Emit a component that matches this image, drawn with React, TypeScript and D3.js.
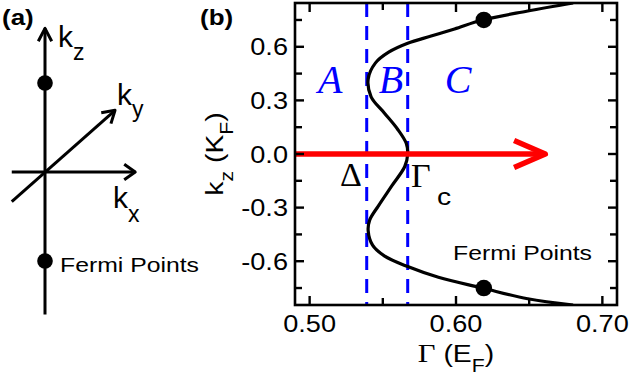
import React from 'react'
import * as d3 from 'd3'

// panel (b): the S-shaped curve (kz in K_F, Gamma in E_F)
const kzValues = [0.845, 0.80, 0.75, 0.70, 0.66, 0.62, 0.57, 0.51, 0.42, 0.32, 0.23, 0.14, 0.06, 0,
  -0.07, -0.18, -0.29, -0.37, -0.43, -0.51, -0.57, -0.63, -0.69, -0.75, -0.81, -0.845]
const gammaValues = [0.680, 0.649, 0.618, 0.599, 0.583, 0.567, 0.554, 0.545, 0.540, 0.542, 0.551, 0.560, 0.566, 0.567,
  0.565, 0.556, 0.547, 0.541, 0.540, 0.543, 0.551, 0.567, 0.588, 0.618, 0.649, 0.680]
const fermiGamma = 0.619
const fermiKz = [0.75, -0.75]
const dashedGamma = [0.539, 0.567]
const arrowGamma = [0.49, 0.661]
const regionNames = ['A', 'B', 'C']

const xMajor = [0.5, 0.6, 0.7]
const xMinor = [0.55, 0.65]
const yMajor = [-0.6, -0.3, 0, 0.3, 0.6]
const yMinor = [-0.75, -0.45, -0.15, 0.15, 0.45, 0.75]

// panel (a): schematic axes, in units of K_F
const schemeFermiKz = [0.75, -0.75]
const schemeKzAxis = [-1.2, 1.21]
const schemeKxAxis = [-0.28, 0.76]
const schemeKyAxis = [[-0.28, -0.25], [0.59, 0.52]]

const SANS = "'Liberation Sans', Arial, sans-serif"
const SERIF = "'Liberation Serif', 'Times New Roman', serif"
const SX = 1.18

const margin = { top: 3, right: 14, bottom: 70, left: 295 }
const W = 631, H = 375

// open chevron arrow head at (tx,ty) pointing along angle
function chevron (tx: number, ty: number, angle: number, len: number, half: number) {
  const a1 = angle + Math.PI - half, a2 = angle + Math.PI + half
  return `M${tx + len * Math.cos(a1)},${ty + len * Math.sin(a1)}L${tx},${ty}L${tx + len * Math.cos(a2)},${ty + len * Math.sin(a2)}`
}

function App () {
  const x = d3.scaleLinear().domain([0.49, 0.71]).range([margin.left, W - margin.right])
  const y = d3.scaleLinear().domain([-0.845, 0.845]).range([H - margin.bottom, margin.top])
  const [x0, x1] = x.range()
  const [y1, y0] = y.range()

  const pts = kzValues.map((k, i) => [gammaValues[i], k] as [number, number])
  const curve = d3.line<[number, number]>()
    .x(d => x(d[0]))
    .y(d => y(d[1]))
    .curve(d3.curveCatmullRom.alpha(0.5))(pts)

  // schematic scales for (a)
  const sx = d3.scaleLinear().domain([0, 1]).range([45, 163.7])
  const sy = d3.scaleLinear().domain([0, 1]).range([172, 53.3])

  const ax0 = x(arrowGamma[0]), ax1 = x(arrowGamma[1]), ay = y(0)
  const kyStart = schemeKyAxis[0], kyEnd = schemeKyAxis[1]
  const kyAngle = Math.atan2(sy(kyEnd[1]) - sy(kyStart[1]), sx(kyEnd[0]) - sx(kyStart[0]))

  const regionX = [0.514, 0.5555, 0.6015]

  return (
    <svg width={W} height={H} style={{ position: 'absolute', left: 0, top: 0, background: '#fff' }}>
      <defs>
        <clipPath id='plot'><rect x={x0} y={y0} width={x1 - x0} height={y1 - y0} /></clipPath>
      </defs>

      {/* ---------- panel (a) ---------- */}
      <text transform={`translate(2,25) scale(${SX},1)`} fontFamily={SANS} fontWeight='bold' fontSize={22}>(a)</text>
      <g stroke='#000' strokeWidth={3} fill='none' strokeLinejoin='round'>
        <line x1={sx(0)} x2={sx(0)} y1={sy(schemeKzAxis[0])} y2={sy(schemeKzAxis[1])} />
        <path d={chevron(sx(0), sy(schemeKzAxis[1]), -Math.PI / 2, 14.5, 0.48)} />
        <line x1={sx(schemeKxAxis[0])} x2={sx(schemeKxAxis[1])} y1={sy(0)} y2={sy(0)} />
        <path d={chevron(sx(schemeKxAxis[1]), sy(0), 0, 13.5, 0.62)} />
        <line x1={sx(kyStart[0])} y1={sy(kyStart[1])} x2={sx(kyEnd[0])} y2={sy(kyEnd[1])} />
        <path d={chevron(sx(kyEnd[0]), sy(kyEnd[1]), kyAngle, 14, 0.55)} />
      </g>
      {schemeFermiKz.map(k => <circle key={k} cx={sx(0)} cy={sy(k)} r={7.8} fill='#000' />)}
      <text x={58} y={47} fontFamily={SANS} fontSize={30}>k<tspan fontSize={23} dy={13}>z</tspan></text>
      <text x={117} y={105} fontFamily={SANS} fontSize={30}>k<tspan fontSize={23} dy={12}>y</tspan></text>
      <text x={113} y={208} fontFamily={SANS} fontSize={30}>k<tspan fontSize={23} dy={14}>x</tspan></text>
      <text transform={`translate(60,272) scale(${SX},1)`} fontFamily={SANS} fontSize={21}>Fermi Points</text>

      {/* ---------- panel (b) ---------- */}
      <text transform={`translate(200,25) scale(${SX},1)`} fontFamily={SANS} fontWeight='bold' fontSize={22}>(b)</text>

      <g clipPath='url(#plot)'>
        {dashedGamma.map(g => (
          <line key={g} x1={x(g)} x2={x(g)} y1={y0} y2={y1} stroke='#0000ff' strokeWidth={3} strokeDasharray='14,9' />
        ))}
        <path d={curve || ''} fill='none' stroke='#000' strokeWidth={3.2} />
        {fermiKz.map(k => <circle key={k} cx={x(fermiGamma)} cy={y(k)} r={8.3} fill='#000' />)}
      </g>

      {/* red arrow */}
      <g stroke='#ff0000' strokeWidth={5.5} fill='none' strokeLinejoin='round'>
        <line x1={ax0} x2={ax1 - 2} y1={ay} y2={ay} />
        <path d={chevron(ax1, ay, 0, 34, 0.41)} />
      </g>

      {/* frame + ticks */}
      <rect x={x0} y={y0} width={x1 - x0} height={y1 - y0} fill='none' stroke='#000' strokeWidth={2.6} />
      <g stroke='#000' strokeWidth={2.4}>
        {xMajor.concat(xMinor).map(v => {
          const len = xMajor.includes(v) ? 9 : 7
          return (
            <g key={'x' + v}>
              <line x1={x(v)} x2={x(v)} y1={y1} y2={y1 - len} />
              <line x1={x(v)} x2={x(v)} y1={y0} y2={y0 + len} />
            </g>
          )
        })}
        {yMajor.concat(yMinor).map(v => {
          const len = yMajor.includes(v) ? 9 : 7
          return (
            <g key={'y' + v}>
              <line x1={x0} x2={x0 + len} y1={y(v)} y2={y(v)} />
              <line x1={x1} x2={x1 - len} y1={y(v)} y2={y(v)} />
            </g>
          )
        })}
      </g>

      {xMajor.map(v => (
        <text key={'xl' + v} transform={`translate(${x(v)},332) scale(${SX},1)`} textAnchor='middle'
          fontFamily={SANS} fontSize={23}>{d3.format('.2f')(v)}</text>
      ))}
      {yMajor.map(v => (
        <text key={'yl' + v} transform={`translate(288,${y(v) + 8.5}) scale(${SX},1)`} textAnchor='end'
          fontFamily={SANS} fontSize={23}>{d3.format('.1f')(v).replace('−', '-')}</text>
      ))}

      {/* axis titles */}
      <text transform={`translate(${(x0 + x1) / 2},362) scale(${SX},1)`} textAnchor='middle' fontFamily={SANS} fontSize={24}>
        <tspan fontFamily={SERIF} fontSize={26}>Γ</tspan> (E<tspan fontSize={18} dy={10}>F</tspan><tspan dy={-10}>)</tspan>
      </text>
      <text transform={`translate(223,${(y0 + y1) / 2}) rotate(-90) scale(${SX},1)`} textAnchor='middle' fontFamily={SANS} fontSize={24}>
        k<tspan fontSize={18} dy={10}>z</tspan><tspan dy={-10}> (K</tspan><tspan fontSize={18} dy={10}>F</tspan><tspan dy={-10}>)</tspan>
      </text>

      {/* region letters and annotations */}
      {regionNames.map((n, i) => (
        <text key={n} x={x(regionX[i])} y={93} textAnchor='middle' fontFamily={SERIF} fontStyle='italic'
          fontSize={40} fill='#0000ff'>{n}</text>
      ))}
      <text x={340} y={186} fontFamily={SERIF} fontSize={34}>Δ</text>
      <text x={411} y={187} fontFamily={SERIF} fontSize={34}>Γ</text>
      <text transform={`translate(437,205) scale(${SX},1)`} fontFamily={SANS} fontSize={24}>c</text>
      <text transform={`translate(453,260) scale(${SX},1)`} fontFamily={SANS} fontSize={21}>Fermi Points</text>
    </svg>
  )
}

export default App
